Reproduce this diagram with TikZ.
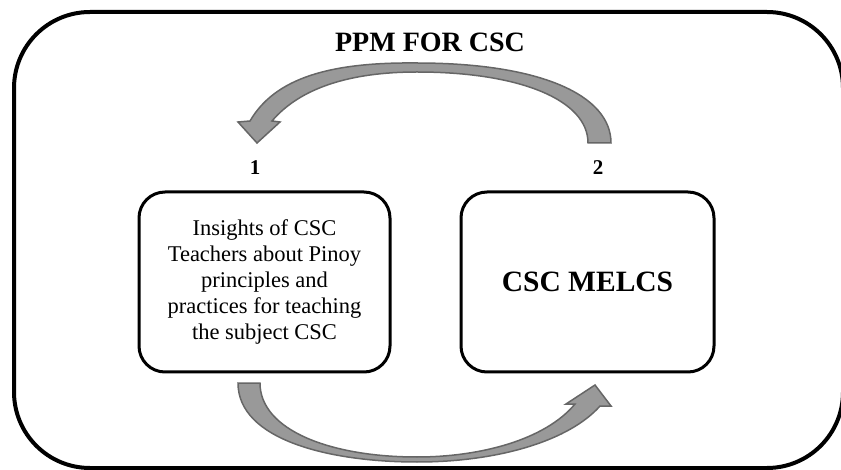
\documentclass[tikz,border=0pt]{standalone}
\usepackage{fontspec}
\setmainfont{Liberation Serif}
\tikzset{
  stagebox/.style={draw,line width=3pt,rounded corners=26pt,align=center,inner sep=0pt},
  cyclearrow/.style={fill=black!40,draw=black!60,line width=1.5pt,line join=miter},
  numlabel/.style={font=\bfseries\fontsize{21}{24}\selectfont}
}
\begin{document}
\begin{tikzpicture}[x=1pt,y=-1pt]
\useasboundingbox (0,0) rectangle (841,470);
\draw[line width=4pt,rounded corners=76pt] (14,12) rectangle (843,468);
\node[font=\bfseries\fontsize{28}{30}\selectfont] (title) at (430,42) {PPM FOR CSC};
\node[stagebox,minimum width=251pt,minimum height=180pt,font=\fontsize{22.5}{25.8}\selectfont] (box1) at (264.5,282)
  {Insights of CSC\\Teachers about Pinoy\\principles and\\practices for teaching\\the subject CSC};
\node[stagebox,minimum width=253pt,minimum height=180pt,font=\bfseries\fontsize{29.5}{32}\selectfont] (box2) at (587.5,282) {CSC MELCS};
\node[numlabel] (lab1) at (255,168) {1};
\node[numlabel] (lab2) at (598,168) {2};
\filldraw[cyclearrow] (611,143) .. controls (611,95) and (540,63) .. (417,63)
  .. controls (330,62) and (275,78) .. (250,121)
  -- (238,122) -- (257,143) -- (280,122) -- (272,121)
  .. controls (300,88) and (350,72) .. (417,72)
  .. controls (520,72) and (588,100) .. (588,143) -- cycle;
\filldraw[cyclearrow] (238,383) .. controls (238,440) and (330,462) .. (417,462)
  .. controls (500,462) and (570,440) .. (600,406)
  -- (611,406) -- (595,385) -- (566,404) -- (575,404)
  .. controls (545,440) and (480,457) .. (417,457)
  .. controls (330,457) and (260,430) .. (260,383) -- cycle;
\end{tikzpicture}
\end{document}
